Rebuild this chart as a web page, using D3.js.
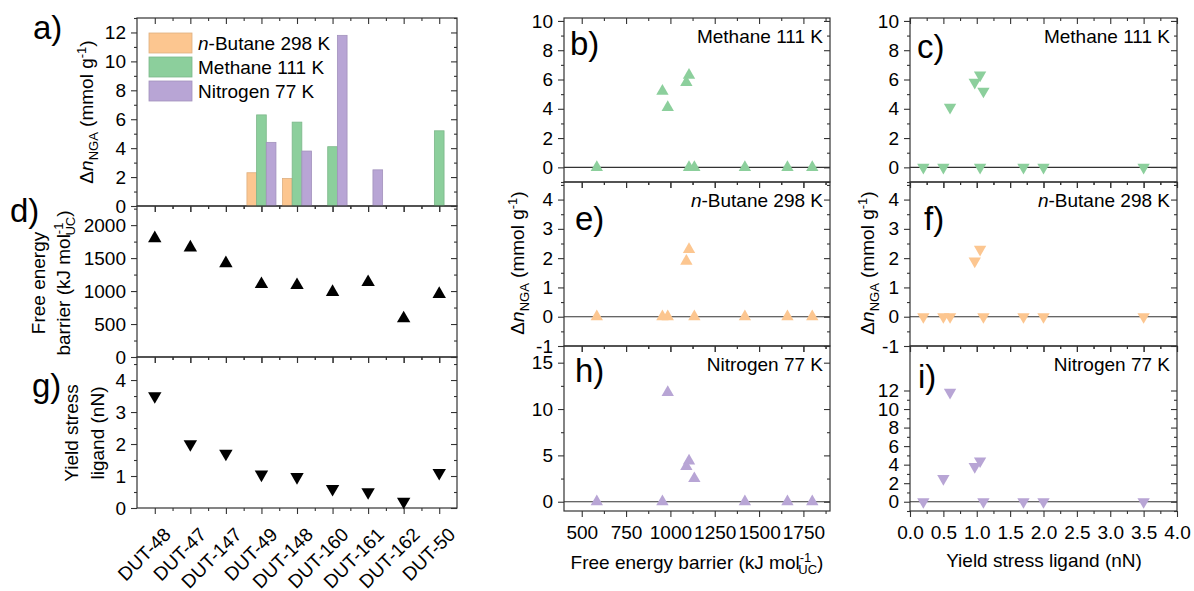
<!DOCTYPE html>
<html><head><meta charset="utf-8">
<script src="https://cdn.jsdelivr.net/npm/d3@7"></script>
<style>
body{margin:0;background:#fff}
svg{display:block}
text{font-family:"Liberation Sans",Arial,sans-serif;fill:#000}
</style>
</head><body>
<svg id="chart" width="1194" height="591"></svg>
<script>
// ---------------- data ----------------
const mofs = ["DUT-48","DUT-47","DUT-147","DUT-49","DUT-148","DUT-160","DUT-161","DUT-162","DUT-50"];
const butaneUptake   = [0, 0, 0, 2.3, 1.9, 0, 0, 0, 0];
const methaneUptake  = [0, 0, 0, 6.3, 5.8, 4.1, 0, 0, 5.2];
const nitrogenUptake = [0, 0, 0, 4.4, 3.8, 11.8, 2.5, 0, 0];
const freeEnergyBarrier = [1800, 1660, 1420, 1105, 1090, 985, 1135, 585, 955];
const yieldStress = [3.5, 2.0, 1.7, 1.05, 0.97, 0.6, 0.5, 0.2, 1.1];
// additional methane measurement shown in panels b and c
const methaneExtraMof = ["DUT-49"];
const methaneExtraUptake = [0];

const gasNames = ["Butane 298 K", "Methane 111 K", "Nitrogen 77 K"];
const gasColors = ["#fcc690", "#8ccf9c", "#b8a5d5"];

const barUptakeTicks = [0, 2, 4, 6, 8, 10, 12];
const barrierAxisTicks = [0, 500, 1000, 1500, 2000];
const yieldAxisTicks = [0, 1, 2, 3, 4];
const barrierTicks = [500, 750, 1000, 1250, 1500, 1750];
const yieldTicks = [0, 0.5, 1, 1.5, 2, 2.5, 3, 3.5, 4];
const methaneTicks = [0, 2, 4, 6, 8, 10];
const butaneTicks = [-1, 0, 1, 2, 3, 4];
const nitrogenTicksB = [0, 5, 10, 15];
const nitrogenTicksC = [0, 2, 4, 6, 8, 10, 12];

// ---------------- helpers ----------------
const svg = d3.select("#chart");
const FS = 19, TICK = 6, MINOR = 3, AX = "#333";
const numFmt = d => String(d);

function frame(o) {
  const g = svg.append("g");
  const {x, y} = o;
  const [x0, x1] = x.range();
  const [y1, y0] = y.range();
  const add = (tr, axis) => {
    const a = g.append("g").attr("transform", tr).call(axis);
    a.select(".domain").remove();
    a.selectAll("line").attr("stroke", AX).attr("stroke-width", 1.1);
    a.selectAll("text").style("font-size", FS + "px").style("font-family", '"Liberation Sans",Arial,sans-serif').attr("fill", "#000");
    return a;
  };
  add(`translate(${x0},0)`, d3.axisLeft(y).tickValues(o.yMajor).tickSize(TICK).tickPadding(5).tickFormat(o.yLabels === false ? "" : (o.yFmt || numFmt)));
  add(`translate(${x0},0)`, d3.axisLeft(y).tickValues(o.yMinor).tickSize(MINOR).tickFormat(""));
  add(`translate(${x1},0)`, d3.axisLeft(y).tickValues(o.yMajor).tickSize(TICK).tickFormat(""));
  add(`translate(${x1},0)`, d3.axisLeft(y).tickValues(o.yMinor).tickSize(MINOR).tickFormat(""));
  add(`translate(0,${y0})`, d3.axisBottom(x).tickValues(o.xMajor).tickSize(TICK).tickFormat(""));
  add(`translate(0,${y0})`, d3.axisBottom(x).tickValues(o.xMinor).tickSize(MINOR).tickFormat(""));
  const b = add(`translate(0,${y1})`, d3.axisBottom(x).tickValues(o.xMajor).tickSize(TICK).tickPadding(9).tickFormat(o.xLabels ? (o.xFmt || numFmt) : ""));
  add(`translate(0,${y1})`, d3.axisBottom(x).tickValues(o.xMinor).tickSize(MINOR).tickFormat(""));
  g.append("rect").attr("x", x0).attr("y", y0).attr("width", x1 - x0).attr("height", y1 - y0)
    .attr("fill", "none").attr("stroke", AX).attr("stroke-width", 1.2);
  return {g, bottom: b};
}

function panelLabel(txt, x, y) {
  svg.append("text").attr("x", x).attr("y", y).style("font-size", "33px").text(txt);
}

function uptakeTitle(cx, cy) {
  const t = svg.append("text").attr("transform", `translate(${cx},${cy}) rotate(-90)`)
    .attr("text-anchor", "middle").style("font-size", FS + "px");
  t.append("tspan").text("Δ");
  t.append("tspan").style("font-style", "italic").text("n");
  t.append("tspan").attr("dy", 5).style("font-size", "13px").text("NGA");
  t.append("tspan").attr("dy", -5).text(" (mmol g");
  t.append("tspan").attr("dy", -7).style("font-size", "13px").text("-1");
  t.append("tspan").attr("dy", 7).text(")");
}

const tri = d3.symbol().type(d3.symbolTriangle);
const range = (a, b, s) => d3.range(a, b + s / 2, s);

// ---------------- left column ----------------
const xL = d3.scaleLinear().domain([0.5, 9.5]).range([137, 457]);
const catMajor = d3.range(1, 10);
const catMinor = d3.range(1.5, 9, 1);

// panel a
const yA = d3.scaleLinear().domain([0, 13]).range([206, 18]);
frame({x: xL, y: yA, xMajor: catMajor, xMinor: catMinor, yMajor: barUptakeTicks, yMinor: range(1, 13, 2), xLabels: false});
const bw = 0.272;
const series = [butaneUptake, methaneUptake, nitrogenUptake];
series.forEach((vals, k) => {
  svg.append("g").selectAll("rect").data(vals.map((v, i) => ({v, i})).filter(d => d.v > 0)).join("rect")
    .attr("x", d => xL(d.i + 1 + (k - 1.5) * bw))
    .attr("width", d => xL(bw) - xL(0))
    .attr("y", d => yA(d.v))
    .attr("height", d => yA(0) - yA(d.v))
    .attr("fill", gasColors[k])
    .attr("stroke", d3.color(gasColors[k]).darker(0.35))
    .attr("stroke-width", 0.8);
});
const lg = svg.append("g");
gasNames.forEach((nm, k) => {
  const ly = 33 + k * 24;
  lg.append("rect").attr("x", 149).attr("y", ly).attr("width", 43).attr("height", 20)
    .attr("fill", gasColors[k]).attr("stroke", d3.color(gasColors[k]).darker(0.35)).attr("stroke-width", 0.8);
  const t = lg.append("text").attr("x", 198).attr("y", ly + 17).style("font-size", FS + "px");
  if (k === 0) { t.append("tspan").style("font-style", "italic").text("n"); t.append("tspan").text("-" + nm); }
  else t.text(nm);
});
uptakeTitle(93, 112);
panelLabel("a)", 33, 39);

// panel d
const yD = d3.scaleLinear().domain([0, 2290]).range([357, 206]);
frame({x: xL, y: yD, xMajor: catMajor, xMinor: catMinor, yMajor: barrierAxisTicks, yMinor: range(250, 2250, 500), xLabels: false});
svg.append("g").selectAll("path").data(freeEnergyBarrier).join("path")
  .attr("d", tri.size(78)())
  .attr("transform", (d, i) => `translate(${xL(i + 1)},${yD(d)})`)
  .attr("fill", "#000");
{
  svg.append("text").attr("transform", "translate(45,283) rotate(-90)").attr("text-anchor", "middle").style("font-size", FS + "px").text("Free energy");
  const t = svg.append("text").attr("transform", "translate(70,283) rotate(-90)").attr("text-anchor", "middle").style("font-size", FS + "px");
  t.append("tspan").text("barrier (kJ mol");
  t.append("tspan").attr("dy", -7).style("font-size", "13px").text("-1");
  t.append("tspan").attr("dx", -13).attr("dy", 12).style("font-size", "13px").text("UC");
  t.append("tspan").attr("dy", -5).text(")");
}
panelLabel("d)", 10, 222);

// panel g
const yG = d3.scaleLinear().domain([0, 4.72]).range([508, 357]);
const fg = frame({x: xL, y: yG, xMajor: catMajor, xMinor: catMinor, yMajor: yieldAxisTicks, yMinor: range(0.5, 4.5, 1), xLabels: true, xFmt: d => mofs[d - 1]});
fg.bottom.selectAll("text")
  .attr("x", 0).attr("y", 0).attr("dy", "0.35em")
  .attr("text-anchor", "end")
  .attr("transform", "translate(12,23) rotate(-45)");
svg.append("g").selectAll("path").data(yieldStress).join("path")
  .attr("d", tri.size(78)())
  .attr("transform", (d, i) => `translate(${xL(i + 1)},${yG(d)}) rotate(180)`)
  .attr("fill", "#000");
svg.append("text").attr("transform", "translate(78,433) rotate(-90)").attr("text-anchor", "middle").style("font-size", FS + "px").text("Yield stress");
svg.append("text").attr("transform", "translate(104,433) rotate(-90)").attr("text-anchor", "middle").style("font-size", FS + "px").text("ligand (nN)");
panelLabel("g)", 32, 397);

// ---------------- scatter columns ----------------
const xB = d3.scaleLinear().domain([400, 1900]).range([564, 830]);
const xY = d3.scaleLinear().domain([0, 4]).range([910, 1177]);
const rows = [
  {y0: 18,  y1: 182, dom: [-1, 10.2], vals: methaneUptake, extra: true, gas: 1, name: "Methane 111 K", base: 43},
  {y0: 182, y1: 346, dom: [-1, 4.6],  vals: butaneUptake, extra: false, gas: 0, name: "Butane 298 K", base: 207},
  {y0: 346, y1: 511, dom: [-1, 16.8], vals: nitrogenUptake, extra: false, gas: 2, name: "Nitrogen 77 K", base: 371}
];
const rowTicks = [
  [{maj: methaneTicks, min: range(-1, 9, 2)}, {maj: methaneTicks, min: range(-1, 9, 2)}],
  [{maj: butaneTicks, min: range(-0.5, 4.5, 1)}, {maj: butaneTicks, min: range(-0.5, 4.5, 1)}],
  [{maj: nitrogenTicksB, min: [2.5, 7.5, 12.5]}, {maj: nitrogenTicksC, min: range(-1, 11, 2)}]
];
const letters = [["b)", "c)"], ["e)", "f)"], ["h)", "i)"]];
const letterPos = [[[570, 55], [917, 58]], [[575, 230], [924, 230]], [[575, 382], [918, 388]]];

rows.forEach((r, ri) => {
  const y = d3.scaleLinear().domain(r.dom).range([r.y1, r.y0]);
  const last = ri === 2;
  [[xB, freeEnergyBarrier, barrierTicks, range(625, 1875, 250), numFmt, false],
   [xY, yieldStress, yieldTicks, range(0.25, 3.75, 0.5), d3.format(".1f"), true]].forEach(([x, xv, maj, min, fmt, down], ci) => {
    const tk = rowTicks[ri][ci];
    frame({x, y, xMajor: maj, xMinor: min, yMajor: tk.maj, yMinor: tk.min, xLabels: last, xFmt: fmt});
    const [xa, xb] = x.range();
    svg.append("line").attr("x1", xa).attr("x2", xb).attr("y1", y(0)).attr("y2", y(0)).attr("stroke", AX).attr("stroke-width", 1.1);
    const pts = r.vals.map((v, i) => ({x: xv[i], v}));
    if (r.extra) methaneExtraMof.forEach((m, j) => { const i = mofs.indexOf(m); pts.push({x: xv[i], v: methaneExtraUptake[j]}); });
    svg.append("g").selectAll("path").data(pts).join("path")
      .attr("d", tri.size(66)())
      .attr("transform", d => `translate(${x(d.x)},${y(d.v)})` + (down ? " rotate(180)" : ""))
      .attr("fill", gasColors[r.gas]);
    const t = svg.append("text").attr("x", xb - 7).attr("y", r.base).attr("text-anchor", "end").style("font-size", FS + "px");
    if (r.gas === 0) { t.append("tspan").style("font-style", "italic").text("n"); t.append("tspan").text("-" + r.name); }
    else t.text(r.name);
    panelLabel(letters[ri][ci], letterPos[ri][ci][0], letterPos[ri][ci][1]);
  });
});
uptakeTitle(524, 263);
uptakeTitle(874, 263);
{
  const t = svg.append("text").attr("x", 697).attr("y", 569).attr("text-anchor", "middle").style("font-size", FS + "px");
  t.append("tspan").text("Free energy barrier (kJ mol");
  t.append("tspan").attr("dy", -7).style("font-size", "13px").text("-1");
  t.append("tspan").attr("dx", -13).attr("dy", 12).style("font-size", "13px").text("UC");
  t.append("tspan").attr("dy", -5).text(")");
}
svg.append("text").attr("x", 1044).attr("y", 567).attr("text-anchor", "middle").style("font-size", FS + "px").text("Yield stress ligand (nN)");
</script>
</body></html>
